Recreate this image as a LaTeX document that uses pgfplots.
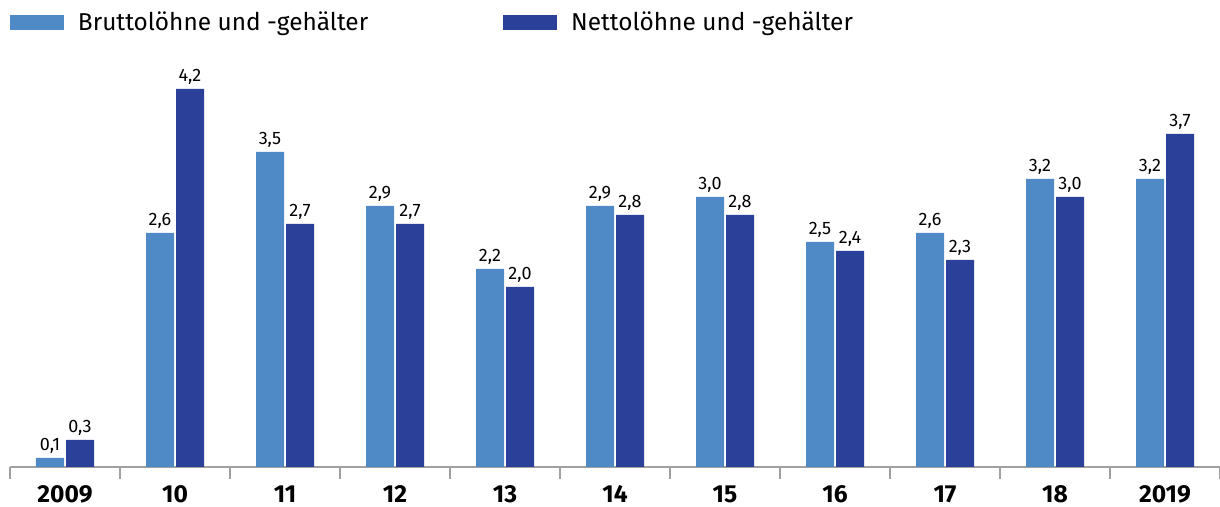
\documentclass[border=0pt]{standalone}
\usepackage{fontspec}
\setmainfont{Fira Sans}
\usepackage{pgfplots}
\pgfplotsset{compat=1.18}
\definecolor{lb}{RGB}{79,137,198}
\definecolor{db}{RGB}{43,64,153}
\definecolor{axg}{RGB}{160,160,160}
\pgfplotsset{mylegend/.style={legend image code/.code={\fill[##1] (0pt,-3.75pt) rectangle (27pt,3.75pt);}}}
\begin{document}
\begin{tikzpicture}
\path[use as bounding box] (-5pt,-20pt) rectangle (605pt,233.5pt);
\begin{axis}[
  at={(0pt,0pt)}, anchor=south west,
  scale only axis, width=605pt, height=207pt,
  xmin=-0.5, xmax=10.5, ymin=0, ymax=4.6,
  ybar=1pt, bar width=14pt,
  axis x line*=bottom, axis y line=none,
  x axis line style={axg, line width=1pt},
  /pgf/number format/assume math mode=true,
  xtick={0,...,10},
  xticklabels={2009,10,11,12,13,14,15,16,17,18,2019},
  major tick length=0pt,
  minor xtick={-0.5,0.5,...,10.5},
  minor tick length=6pt,
  xtick align=outside,
  every minor tick/.style={axg, line width=1pt},
  xticklabel style={font=\bfseries\fontsize{12.3}{14}\selectfont, inner sep=0pt, yshift=-9pt},
  clip=false,
  nodes near coords={\pgfmathprintnumber[fixed,fixed zerofill,precision=1,use comma]{\pgfplotspointmeta}},
  every node near coord/.append style={font=\fontsize{9}{10}\selectfont, inner sep=0pt, yshift=2pt, text=black},
  legend columns=2,
  legend style={at={(0,1.099)}, anchor=north west, draw=none, fill=none, inner sep=0pt, outer sep=0pt,
    font=\fontsize{12.2}{14}\selectfont, nodes={inner sep=0pt},
    /tikz/every odd column/.append style={column sep=7pt},
    /tikz/every even column/.append style={column sep=67.5pt}},
]
\addplot[fill=lb, draw=none, mylegend] coordinates {(0,0.1) (1,2.6) (2,3.5) (3,2.9) (4,2.2) (5,2.9) (6,3.0) (7,2.5) (8,2.6) (9,3.2) (10,3.2)};
\addplot[fill=db, draw=none, mylegend] coordinates {(0,0.3) (1,4.2) (2,2.7) (3,2.7) (4,2.0) (5,2.8) (6,2.8) (7,2.4) (8,2.3) (9,3.0) (10,3.7)};
\legend{Bruttolöhne und -gehälter, Nettolöhne und -gehälter}
\end{axis}
\end{tikzpicture}
\end{document}
